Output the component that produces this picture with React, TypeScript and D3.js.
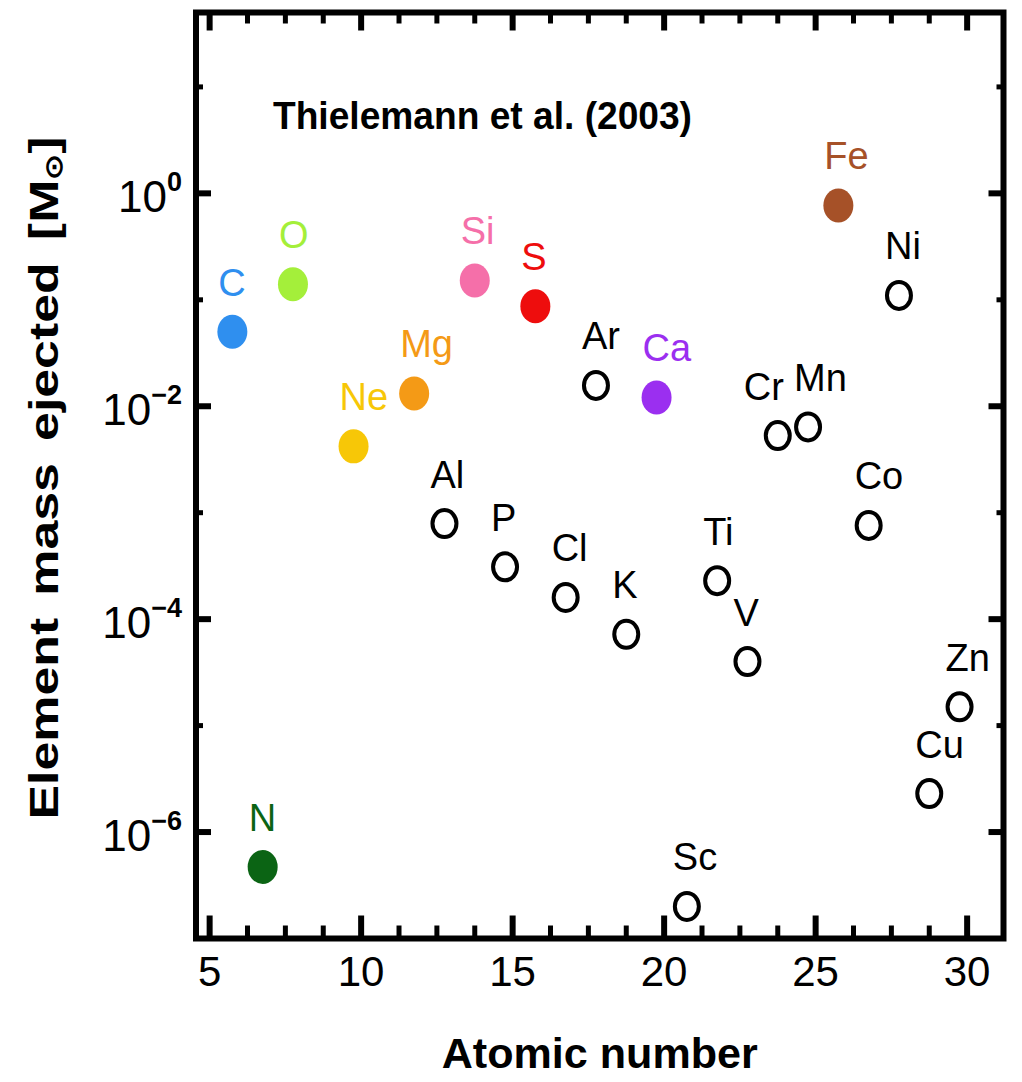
import React from "react";
import * as d3 from "d3";

// ---- data ----
const elements = ["C", "N", "O", "Ne", "Mg", "Al", "Si", "P", "S", "Cl", "Ar", "K", "Ca", "Sc", "Ti", "V", "Cr", "Mn", "Fe", "Co", "Ni", "Cu", "Zn"];
const atomicNumbers = [6, 7, 8, 10, 12, 13, 14, 15, 16, 17, 18, 19, 20, 21, 22, 23, 24, 25, 26, 27, 28, 29, 30];
const massEjected = [
  0.05, 4.7e-7, 0.14, 0.0042, 0.0132, 7.9e-4, 0.152, 3.1e-4, 0.087, 1.6e-4, 0.0157, 7.2e-5,
  0.0121, 2.0e-7, 2.3e-4, 4.0e-5, 0.0053, 0.0064, 0.77, 7.6e-4, 0.11, 2.3e-6, 1.5e-5,
];
// filled colour (or null for open black circle)
const pointColors: (string | null)[] = [
  "#2f8fef", "#0b6414", "#a4ef3a", "#f7c707", "#f49a16", null, "#f56fa9", null, "#ee0d0d", null, null, null,
  "#9b2ff0", null, null, null, null, null, "#a65128", null, null, null, null,
];
const xTickValues = [5, 10, 15, 20, 25, 30];
const yDecades = [1, 0, -1, -2, -3, -4, -5, -6];
const yLabelDecades = [0, -2, -4, -6];
const titleText = "Thielemann et al. (2003)";
const xAxisTitle = "Atomic number";

const W = 1022;
const H = 1082;
const frame = { left: 196, right: 1003.5, top: 12.5, bottom: 938.5 };
const labelNudge: Record<string, number> = { Cr: -20 };
const FONT = "'Liberation Sans', Arial, sans-serif";

export default function App() {
  const x = d3.scaleLinear().domain([4.55, 31.2]).range([frame.left, frame.right]);
  const y = d3.scaleLog().domain([1e-7, 50]).range([frame.bottom, frame.top]);
  const pointShift = -0.25;

  const minorX = d3.range(5, 31.2, 1.25).filter((v) => !xTickValues.includes(v));
  const points = elements.map((el, i) => ({
    el,
    cx: x(atomicNumbers[i] + pointShift),
    cy: y(massEjected[i]),
    color: pointColors[i],
  }));

  return (
    <svg
      width={W}
      height={H}
      style={{ position: "absolute", left: 0, top: 0, background: "#fff" }}
      fontFamily={FONT}
    >
      <rect x={0} y={0} width={W} height={H} fill="#fff" />
      {/* x ticks */}
      {xTickValues.map((v) => (
        <g key={"xt" + v} stroke="#000" strokeWidth={6}>
          <line x1={x(v)} x2={x(v)} y1={frame.bottom} y2={frame.bottom - 23} />
          <line x1={x(v)} x2={x(v)} y1={frame.top} y2={frame.top + 18} />
        </g>
      ))}
      {minorX.map((v) => (
        <g key={"xm" + v} stroke="#000" strokeWidth={5}>
          <line x1={x(v)} x2={x(v)} y1={frame.bottom} y2={frame.bottom - 13} />
          <line x1={x(v)} x2={x(v)} y1={frame.top} y2={frame.top + 11} />
        </g>
      ))}
      {/* y ticks */}
      {yDecades.map((k) => {
        const major = yLabelDecades.includes(k);
        const len = major ? 15 : 7;
        const yy = y(Math.pow(10, k));
        return (
          <g key={"yt" + k} stroke="#000" strokeWidth={major ? 6 : 5}>
            <line x1={frame.left} x2={frame.left + len} y1={yy} y2={yy} />
            <line x1={frame.right} x2={frame.right - len} y1={yy} y2={yy} />
          </g>
        );
      })}
      {/* frame */}
      <rect
        x={frame.left}
        y={frame.top}
        width={frame.right - frame.left}
        height={frame.bottom - frame.top}
        fill="none"
        stroke="#000"
        strokeWidth={6}
      />
      {/* x tick labels */}
      {xTickValues.map((v) => (
        <text key={"xl" + v} x={x(v)} y={986} textAnchor="middle" fontSize={42} fill="#000">
          {v}
        </text>
      ))}
      {/* y tick labels */}
      {yLabelDecades.map((k) => {
        const yy = y(Math.pow(10, k));
        return (
          <text key={"yl" + k} x={182} y={yy + 19} textAnchor="end" fill="#000">
            <tspan fontSize={44}>10</tspan>
            <tspan fontSize={27} dy={-21} fontWeight="bold">
              {k === 0 ? "0" : "\u2212" + Math.abs(k)}
            </tspan>
          </text>
        );
      })}
      {/* axis titles */}
      <text
        x={(frame.left + frame.right) / 2}
        y={1068}
        textAnchor="middle"
        fontSize={43}
        fontWeight="bold"
        textLength={316}
        lengthAdjust="spacingAndGlyphs"
      >
        {xAxisTitle}
      </text>
      <text
        transform={`translate(58, 478) rotate(-90)`}
        textAnchor="middle"
        fontSize={40}
        fontWeight="bold"
        wordSpacing={6}
        textLength={683}
        lengthAdjust="spacingAndGlyphs"
      >
        Element mass ejected [M
        <tspan fontSize={24} dy={4}>
          {"\u2299"}
        </tspan>
        <tspan dy={-4}>]</tspan>
      </text>
      {/* in-plot title */}
      <text
        x={273}
        y={129}
        fontSize={38}
        fontWeight="bold"
        textLength={419}
        lengthAdjust="spacingAndGlyphs"
      >
        {titleText}
      </text>
      {/* points */}
      {points.map((p) =>
        p.color ? (
          <ellipse key={"p" + p.el} cx={p.cx} cy={p.cy} rx={15} ry={17} fill={p.color} />
        ) : (
          <ellipse
            key={"p" + p.el}
            cx={p.cx}
            cy={p.cy}
            rx={12}
            ry={13.5}
            fill="none"
            stroke="#000"
            strokeWidth={4}
          />
        )
      )}
      {/* labels */}
      {points.map((p) => (
        <text
          key={"l" + p.el}
          x={p.cx - 14 + (labelNudge[p.el] || 0)}
          y={p.cy - 36}
          fontSize={38}
          fill={p.color || "#000"}
        >
          {p.el}
        </text>
      ))}
    </svg>
  );
}
